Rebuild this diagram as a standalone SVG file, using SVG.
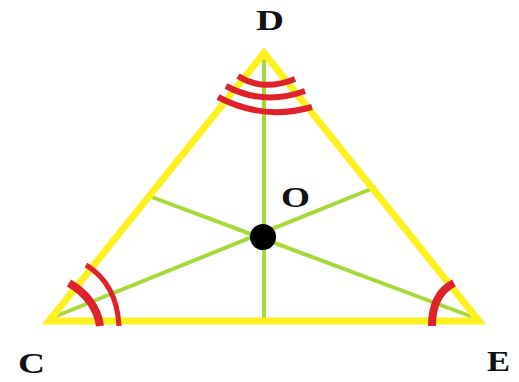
<svg xmlns="http://www.w3.org/2000/svg" width="519" height="382" viewBox="0 0 519 382">
<style>
.side{stroke:#FFF01F;stroke-width:7;fill:none;stroke-linejoin:miter}
.med{stroke:#A6D93A;stroke-width:4;fill:none}
.arc{stroke:#E0222A;fill:none;stroke-linecap:butt}
.lbl{font-family:"Liberation Serif",serif;font-weight:bold;font-size:29px;fill:#111}
</style>
<rect width="519" height="382" fill="#fff"/>
<g id="connectors">
<line class="med" x1="264" y1="54" x2="264" y2="321"/>
<line class="med" x1="49" y1="319" x2="376" y2="187"/>
<line class="med" x1="478" y1="319" x2="149" y2="196"/>
</g>
<g id="triangle">
<polygon class="side" points="264,53 49,321 479,321"/>
</g>
<g id="angles">
<path class="arc" stroke-width="6" d="M238 76 Q263 92 295 79"/>
<path class="arc" stroke-width="6" d="M226 86 Q263 106 305 91"/>
<path class="arc" stroke-width="6" d="M218 97 Q263 121 312 107"/>
<path class="arc" stroke-width="8" d="M69 283 Q96 299 100 326"/>
<path class="arc" stroke-width="5" d="M86 265 Q117 284 119 326"/>
<path class="arc" stroke-width="8" d="M454 283 Q432 294 432 326"/>
</g>
<g id="O">
<circle cx="263" cy="237" r="13" fill="#000"/>
<text class="lbl" x="281" y="207" textLength="29" lengthAdjust="spacingAndGlyphs">O</text>
</g>
<g id="D"><text class="lbl" x="256" y="30" textLength="28" lengthAdjust="spacingAndGlyphs">D</text></g>
<g id="C"><text class="lbl" x="18" y="373" textLength="27" lengthAdjust="spacingAndGlyphs">C</text></g>
<g id="E"><text class="lbl" x="487" y="371" textLength="23" lengthAdjust="spacingAndGlyphs">E</text></g>
</svg>
